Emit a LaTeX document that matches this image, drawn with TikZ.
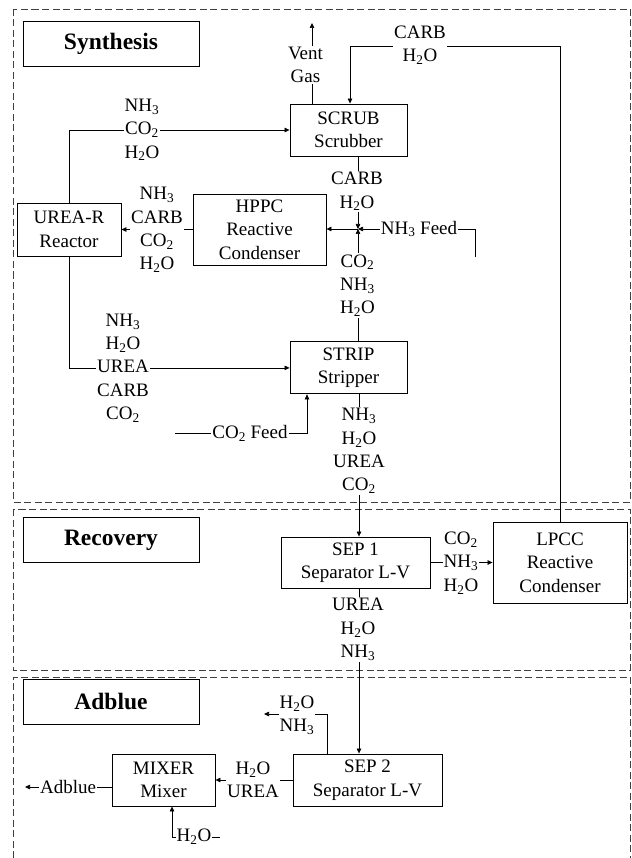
\documentclass[tikz,border=0pt]{standalone}
\usepackage{fontspec}
\setmainfont{Liberation Serif}
\usepackage{tikz}
\usetikzlibrary{positioning,arrows.meta}
\newcommand{\nhthree}{NH\textsubscript{3}}
\newcommand{\cotwo}{CO\textsubscript{2}}
\newcommand{\htwoo}{H\textsubscript{2}O}

\begin{document}
\begin{tikzpicture}[
    x=1pt, y=-1pt,
    block/.style={draw, line width=0.9pt, align=center, inner sep=0pt, font=\fontsize{19}{23.5}\selectfont},
    title/.style={draw, line width=0.9pt, minimum width=176pt, minimum height=45pt, font=\fontsize{23.5}{27}\selectfont\bfseries},
    region/.style={draw=black!75, line width=0.8pt, dash pattern=on 7pt off 3.5pt},
    stream/.style={align=center, fill=white, inner sep=1pt, font=\fontsize{19}{23.3}\selectfont},
    arrow/.style={-{Triangle[length=5pt, width=4.5pt]}, line width=0.7pt}
]
\useasboundingbox (0,0) rectangle (631,858);

% Areas
\draw[region] (13,9) rectangle (630,502);
\draw[region] (13,509) rectangle (630,670);
\draw[region] (13,858) -- (13,677) -- (630,677) -- (630,858);

\node[title] (tsyn) at (111,43.5) {Synthesis};
\node[title] (trec) at (111,540) {Recovery};
\node[title] (tadb) at (111,701.5) {Adblue};

% Units
\node[block, minimum width=117pt, minimum height=52pt] (scrub) at (348.5,130) {SCRUB\\Scrubber};
\node[block, minimum width=104pt, minimum height=53pt] (ureaR) at (69,229.5) {UREA-R\\Reactor};
\node[block, minimum width=133pt, minimum height=71pt] (hppc) at (259.5,229.5) {HPPC\\Reactive\\Condenser};
\node[block, minimum width=117pt, minimum height=52pt, below=185pt of scrub] (strip) {STRIP\\Stripper};
\node[block, minimum width=149pt, minimum height=51pt] (sep1) at (355.5,562.5) {SEP 1\\Separator L-V};
\node[block, minimum width=134pt, minimum height=81pt] (lpcc) at (560,562.5) {LPCC\\Reactive\\Condenser};
\node[block, minimum width=149pt, minimum height=52pt] (sep2) at (367.5,780) {SEP 2\\Separator L-V};
\node[block, minimum width=103pt, minimum height=52pt] (mixer) at (163.5,780) {MIXER\\Mixer};

% Free ends and bends
\coordinate (jn) at (358,229);
\coordinate (spine) at (359,0);
\coordinate (ventout) at (312,23);
\coordinate (carbturn) at (350,46.7);
\coordinate (nh3in) at (475,257);
\coordinate (co2in) at (175,433);
\coordinate (vapout) at (264,714);
\coordinate (adbout) at (25,787);
\coordinate (h2oin) at (220,837);

% Streams
\draw[arrow] (ventout |- scrub.north) -- (ventout);
\draw[arrow] (lpcc.north) |- (carbturn) -- (carbturn |- scrub.north);
\draw[arrow] (ureaR.north) |- (scrub.west);
\draw[arrow] (jn |- scrub.south) -- (jn);
\draw[arrow] (jn |- strip.north) -- (jn);
\draw[arrow] (nh3in) |- (jn);
\draw[arrow] (jn) -- (jn -| hppc.east);
\draw[arrow] (hppc.west) -- (ureaR.east);
\draw[arrow] (ureaR.south) |- (strip.west);
\draw[arrow] (co2in) -| ([xshift=-41.5pt]strip.south);
\draw[arrow] (spine |- strip.south) -- (spine |- sep1.north);
\draw[arrow] (sep1.east) -- (lpcc.west);
\draw[arrow] (spine |- sep1.south) -- (spine |- sep2.north);
\draw[arrow] ([xshift=-40.5pt]sep2.north) |- (vapout);
\draw[arrow] (sep2.west) -- (mixer.east);
\draw[arrow] (mixer.west |- adbout) -- (adbout);
\draw[arrow] (h2oin) -| ([xshift=8.5pt]mixer.south);

% Stream labels
\node[stream] (lvent) at (305.5,65) {Vent\\Gas};
\node[stream] (lcarb1) at (420,45) {CARB\\\htwoo};
\node[stream] (lgas) at (142,130) {\nhthree\\\cotwo\\\htwoo};
\node[stream] (lliq1) at (157,230) {\nhthree\\CARB\\\cotwo\\\htwoo};
\node[stream] (lcarb2) at (357,191.5) {CARB\\\htwoo};
\node[stream] (lnh3) at (419,229) {\nhthree{} Feed};
\node[stream] (lstripv) at (357.5,285.5) {\cotwo\\\nhthree\\\htwoo};
\node[stream] (lreact) at (123,368) {\nhthree\\\htwoo\\UREA\\CARB\\\cotwo};
\node[stream] (lco2) at (250,433) {\cotwo{} Feed};
\node[stream] (lstripl) at (359,451) {\nhthree\\\htwoo\\UREA\\\cotwo};
\node[stream] (lsep1v) at (461,563) {\cotwo\\\nhthree\\\htwoo};
\node[stream] (lsep1l) at (358,629.5) {UREA\\\htwoo\\\nhthree};
\node[stream] (lsep2v) at (297,715) {\htwoo\\\nhthree};
\node[stream] (lsep2l) at (253,780) {\htwoo\\UREA};
\node[stream] (ladb) at (68,787) {Adblue};
\node[stream] (lwater) at (194,837) {\htwoo};
\end{tikzpicture}
\end{document}
